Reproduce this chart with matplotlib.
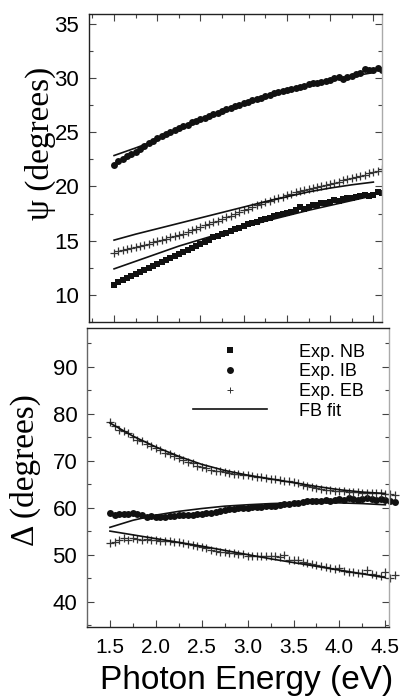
import matplotlib.pyplot as plt
import numpy as np
from matplotlib.lines import Line2D
from matplotlib.ticker import MultipleLocator, FormatStrFormatter

# photon energy grid of the measured points (eV)
energy = np.linspace(1.5, 4.6, 63)
# photon energy of the fit curves (eV)
energy_fit = np.linspace(1.5, 4.5, 13)

# ---- Psi (degrees) ----
psi_nb = [10.95, 11.2, 11.35, 11.55, 11.75, 11.95, 12.1, 12.3, 12.5, 12.65,
          12.85, 13.05, 13.2, 13.4, 13.55, 13.75, 13.95, 14.1, 14.3, 14.5,
          14.65, 14.85, 15.05, 15.3, 15.45, 15.6, 15.75, 15.9, 16.05, 16.2,
          16.35, 16.5, 16.6, 16.75, 16.9, 17.0, 17.1, 17.25, 17.35, 17.5,
          17.55, 17.65, 17.8, 18.1, 17.95, 18.1, 18.3, 18.3, 18.45, 18.5,
          18.6, 18.75, 18.65, 18.85, 18.9, 18.95, 19.0, 19.1, 19.2, 19.1,
          19.2, 19.45, 19.4]
psi_ib = [22.0, 22.3, 22.55, 22.8, 22.95, 23.2, 23.45, 23.75, 24.0, 24.2,
          24.45, 24.65, 24.8, 25.0, 25.2, 25.35, 25.55, 25.7, 25.9, 26.05,
          26.2, 26.35, 26.5, 26.65, 26.8, 26.95, 27.1, 27.25, 27.4, 27.55,
          27.65, 27.8, 27.95, 28.1, 28.2, 28.3, 28.45, 28.6, 28.7, 28.8,
          28.9, 29.0, 29.1, 29.2, 29.3, 29.4, 29.5, 29.55, 29.65, 29.75,
          29.85, 30.0, 30.1, 29.95, 30.05, 30.2, 30.35, 30.45, 30.8, 30.7,
          30.7, 30.9, 30.75]
psi_eb = [13.85, 14.05, 14.1, 14.2, 14.3, 14.4, 14.5, 14.6, 14.7, 14.85,
          14.95, 15.05, 15.15, 15.3, 15.4, 15.55, 15.65, 15.8, 15.95, 16.1,
          16.25, 16.4, 16.55, 16.7, 16.85, 17.0, 17.15, 17.3, 17.5, 17.65,
          17.8, 17.95, 18.1, 18.25, 18.4, 18.55, 18.7, 18.8, 18.95, 19.05,
          19.2, 19.3, 19.45, 19.55, 19.65, 19.75, 19.85, 19.95, 20.05, 20.15,
          20.25, 20.35, 20.45, 20.6, 20.7, 20.8, 20.9, 21.0, 21.1, 21.2,
          21.3, 21.45, 21.6]
psi_fit_nb = [12.4, 13.1, 13.8, 14.5, 15.1, 15.7, 16.25, 16.8, 17.3, 17.8, 18.25, 18.7, 19.15]
psi_fit_ib = [22.85, 23.55, 24.3, 25.25, 26.1, 26.85, 27.55, 28.2, 28.8, 29.3, 29.75, 30.15, 30.5]
psi_fit_eb = [15.05, 15.6, 16.1, 16.6, 17.1, 17.6, 18.1, 18.6, 19.05, 19.5, 19.85, 20.15, 20.4]

# ---- Delta (degrees) ----
delta_ib = [58.8, 58.5, 58.7, 58.7, 58.6, 58.8, 58.6, 58.4, 58.0, 58.2,
            58.1, 58.0, 58.0, 58.2, 58.3, 58.4, 58.4, 58.5, 58.5, 58.6,
            58.6, 58.8, 58.9, 59.1, 59.3, 59.5, 59.7, 59.8, 59.9, 60.0,
            60.0, 60.1, 60.1, 60.2, 60.3, 60.4, 60.4, 60.6, 60.7, 60.8,
            60.9, 61.0, 61.2, 61.4, 61.5, 61.5, 61.5, 61.6, 61.5, 61.6,
            61.8, 61.7, 62.0, 61.8, 61.7, 61.9, 62.0, 61.9, 61.7, 61.8,
            61.6, 61.4, 61.1]
delta_eb_up = [78.3, 77.3, 76.5, 76.2, 75.8, 75.0, 74.4, 74.2, 73.6, 73.0,
               72.6, 72.2, 71.6, 71.3, 71.0, 70.6, 70.2, 69.8, 69.4, 68.9,
               68.7, 68.5, 68.0, 67.8, 67.7, 67.6, 67.4, 67.2, 67.1, 67.0,
               66.9, 66.8, 66.6, 66.4, 66.3, 66.1, 66.0, 65.9, 65.7, 65.6,
               65.4, 65.2, 64.9, 64.6, 64.3, 64.1, 64.0, 63.8, 63.7, 63.6,
               63.6, 63.5, 63.4, 63.3, 63.3, 63.1, 63.0, 63.1, 63.2, 63.2,
               62.9, 62.8, 62.7]
delta_eb_low = [52.5, 52.6, 53.0, 53.6, 53.0, 53.5, 53.4, 53.2, 53.3, 53.0,
                53.1, 52.9, 52.8, 52.8, 52.7, 52.6, 52.4, 52.3, 52.0, 51.8,
                51.6, 51.3, 51.0, 50.8, 50.5, 50.6, 50.4, 50.3, 50.2, 50.1,
                49.8, 49.6, 49.8, 49.8, 49.7, 49.6, 49.6, 49.4, 50.0, 48.9,
                48.9, 48.8, 48.5, 48.3, 48.1, 47.8, 47.6, 47.4, 47.2, 47.0,
                47.1, 46.6, 46.4, 46.3, 46.1, 46.0, 46.8, 45.8, 45.6, 45.5,
                46.4, 45.1, 45.6]
delta_fit_ib = [55.8, 57.3, 58.4, 59.2, 59.8, 60.3, 60.6, 60.85, 61.0, 61.05, 61.0, 60.85, 60.6]
delta_fit_eb_up = [78.0, 75.2, 72.9, 70.9, 69.2, 67.9, 66.9, 66.1, 65.3, 64.5, 63.8, 63.3, 63.0]
delta_fit_eb_low = [55.0, 54.2, 53.4, 52.6, 51.8, 50.9, 50.0, 49.1, 48.3, 47.5, 46.7, 45.9, 45.1]

legend_labels = ['Exp. NB', 'Exp. IB', 'Exp. EB', 'FB fit']

sans = ['Liberation Sans', 'DejaVu Sans']
serif = ['Liberation Serif', 'DejaVu Serif']
plt.rcParams['font.family'] = sans

dark = '#111111'
sq = dict(marker='s', ms=4.6, color=dark, ls='none', mew=0)
ci = dict(marker='o', ms=5.0, color=dark, ls='none', mew=0)
pl = dict(marker='+', ms=5.5, color='#333333', ls='none', mew=0.9)
fit = dict(color=dark, lw=1.2)

fig = plt.figure(figsize=(4.01, 6.96), dpi=100)
ax1 = fig.add_axes([89 / 401, 1 - 322 / 696, 293 / 401, 308 / 696])
ax2 = fig.add_axes([87 / 401, 1 - 627 / 696, 302 / 401, 299 / 696])

# top panel: psi
ax1.plot(energy, psi_nb, **sq)
ax1.plot(energy, psi_ib, **ci)
ax1.plot(energy, psi_eb, **pl)
for f in (psi_fit_nb, psi_fit_ib, psi_fit_eb):
    ax1.plot(energy_fit, f, **fit)
ax1.set_xlim(1.21, 4.60)
ax1.set_ylim(7.5, 35.9)
ax1.xaxis.set_major_locator(MultipleLocator(0.5))
ax1.xaxis.set_minor_locator(MultipleLocator(0.25))
ax1.yaxis.set_major_locator(MultipleLocator(5))
ax1.yaxis.set_minor_locator(MultipleLocator(2.5))
ax1.tick_params(axis='x', labelbottom=False)
ax1.text(40 / 401, 1 - 143.5 / 696, '\u03c8 (degrees)', transform=fig.transFigure,
         rotation=90, ha='center', va='center', fontsize=24, family=serif)

# bottom panel: delta
ax2.plot(energy, delta_ib, clip_on=False, **ci)
ax2.plot(energy, delta_eb_up, clip_on=False, **pl)
ax2.plot(energy, delta_eb_low, clip_on=False, **pl)
for f in (delta_fit_ib, delta_fit_eb_up, delta_fit_eb_low):
    ax2.plot(energy_fit, f, **fit)
ax2.set_xlim(1.25, 4.54)
ax2.set_ylim(34.6, 98.2)
ax2.xaxis.set_major_locator(MultipleLocator(0.5))
ax2.xaxis.set_minor_locator(MultipleLocator(0.25))
ax2.xaxis.set_major_formatter(FormatStrFormatter('%.1f'))
ax2.yaxis.set_major_locator(MultipleLocator(10))
ax2.yaxis.set_minor_locator(MultipleLocator(5))
ax2.text(25 / 401, 1 - 470.5 / 696, '\u0394 (degrees)', transform=fig.transFigure,
         rotation=90, ha='center', va='center', fontsize=24, family=serif)
fig.text(247 / 401, 1 - 689 / 696, 'Photon Energy (eV)', ha='center', va='baseline',
         fontsize=24)

for ax, top in ((ax1, True), (ax2, False)):
    ax.tick_params(which='both', direction='in', left=True, right=True,
                   bottom=True, top=top, color='#444444')
    ax.tick_params(which='major', length=5, width=0.8)
    ax.tick_params(which='minor', length=3, width=0.8)
    ax.tick_params(axis='y', labelsize=16, pad=7)
    ax.tick_params(axis='x', labelsize=15, pad=8)
    for s in ('left', 'top', 'bottom'):
        ax.spines[s].set_color('#222222')
        ax.spines[s].set_linewidth(1.0)
    ax.spines['right'].set_color('#aaaaaa')
    ax.spines['right'].set_linewidth(1.0)
ax2.spines['left'].set_color('#666666')

handles = [Line2D([], [], **sq), Line2D([], [], **ci),
           Line2D([], [], marker='+', ms=5, color='#333333', ls='none', mew=0.7),
           Line2D([], [], **fit)]
ax2.legend(handles, legend_labels, loc='upper left', bbox_to_anchor=(0.35, 0.948),
           frameon=False, fontsize=13, handlelength=4.1, handletextpad=1.8,
           labelspacing=0.15, borderpad=0, borderaxespad=0)

fig.savefig('out.png', dpi=100)
